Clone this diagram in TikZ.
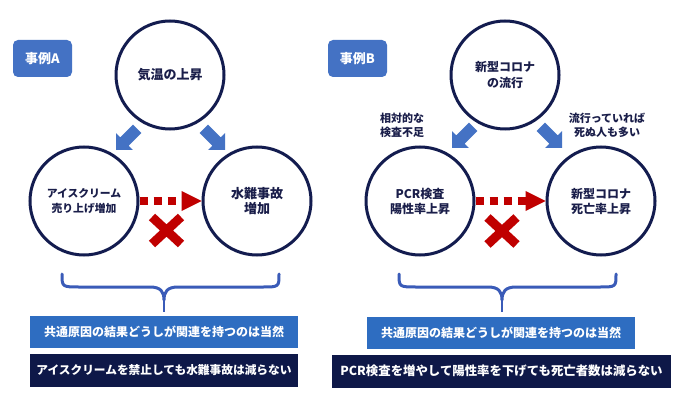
\documentclass[tikz,border=0pt]{standalone}
\usepackage{fontspec}
\setmainfont{Noto Sans CJK JP}
\usetikzlibrary{arrows.meta,shapes.misc}
\definecolor{boxblue}{HTML}{4472C4}
\definecolor{arrowblue}{HTML}{4472C4}
\definecolor{bandblue}{HTML}{2E6DC1}
\definecolor{navy}{HTML}{0E1848}
\definecolor{ringnavy}{HTML}{131C4F}
\definecolor{textnavy}{HTML}{1A1E4A}
\definecolor{bracecol}{HTML}{3A5BB8}
\definecolor{redmark}{HTML}{C00000}
\tikzset{
  ring/.style={circle, draw=ringnavy, line width=3pt, minimum size=108pt, inner sep=0pt,
    align=center, text=textnavy, font=\bfseries\fontsize{12}{15}\selectfont},
  casebox/.style={rectangle, rounded corners=5pt, fill=boxblue, text=white,
    minimum width=59pt, minimum height=37pt, inner sep=0pt, font=\bfseries\fontsize{13}{15}\selectfont},
  sidelabel/.style={align=center, text=textnavy, inner sep=0pt, font=\bfseries\fontsize{11}{14}\selectfont},
  band/.style={rectangle, fill=bandblue, text=white, minimum height=32pt, inner sep=0pt,
    font=\bfseries\fontsize{12}{14}\selectfont},
  darkband/.style={rectangle, fill=navy, text=white, minimum height=33pt, inner sep=0pt,
    font=\bfseries\fontsize{12}{14}\selectfont},
  dotconn/.style={draw=redmark, line width=7pt, dash pattern=on 8pt off 6pt,
    -{Triangle[length=20pt,width=20pt,line width=0pt]}},
  redx/.style={cross out, draw=redmark, line width=9pt, minimum width=20pt, minimum height=18pt, inner sep=0pt},
  bracestyle/.style={draw=bracecol, line width=3pt, line join=round, line cap=round},
}
\newcommand\blockarr[2]{\fill[arrowblue,shift={#1},rotate=#2] (0,0)--(-12,12)--(-12,6)--(-30,6)--(-30,-6)--(-12,-6)--(-12,-12)--cycle;}
\begin{document}
\begin{tikzpicture}[x=1pt,y=-1pt]
\useasboundingbox (0,0) rectangle (700,403);
\fill[white] (0,0) rectangle (700,403);
% ---- Case A ----
\node[casebox] (caseA) at (42.5,58.5) {事例A};
\node[ring, font=\bfseries\fontsize{13}{15}\selectfont] (At) at (170,75) {気温の上昇};
\node[ring, font=\bfseries\fontsize{10.8}{15}\selectfont] (Al) at (84,201) {アイスクリーム\\売り上げ増加};
\node[ring, font=\bfseries\fontsize{13}{15}\selectfont] (Ar) at (257,201) {水難事故\\増加};
\blockarr{(116,150)}{225}
\blockarr{(225,150)}{-45}
\draw[dotconn] (Al) -- (Ar);
\node[redx] (xA) at (166.5,230.5) {};
\draw[bracestyle] (62,274) .. controls (62,287) .. (80,287) -- (150,287)
  .. controls (161,287) and (164,292) .. (164,300)
  .. controls (164,292) and (167,287) .. (178,287) -- (262,287)
  .. controls (279,287) .. (279,274);
\draw[draw=bracecol, line width=2pt] (164,298) -- (164,312);
\node[band, minimum width=268pt] (bandA) at (164,332) {共通原因の結果どうしが関連を持つのは当然};
\node[darkband, minimum width=268pt, font=\bfseries\fontsize{11.7}{14}\selectfont] (darkA) at (164,370.5) {アイスクリームを禁止しても水難事故は減らない};
% ---- Case B ----
\node[casebox] (caseB) at (357.5,58.5) {事例B};
\node[ring] (Bt) at (505,75) {新型コロナ\\[1pt]の流行};
\node[ring] (Bl) at (420,201) {PCR検査\\陽性率上昇};
\node[ring] (Br) at (601,201) {新型コロナ\\死亡率上昇};
\node[sidelabel] (labL) at (402,125) {相対的な\\検査不足};
\node[sidelabel] (labR) at (607,125) {流行っていれば\\死ぬ人も多い};
\blockarr{(452,148)}{225}
\blockarr{(562,148)}{-45}
\draw[dotconn] (Bl) -- (Br);
\node[redx] (xB) at (502,231) {};
\draw[bracestyle] (399,274) .. controls (399,287) .. (417,287) -- (488,287)
  .. controls (499,287) and (502,292) .. (502,300)
  .. controls (502,292) and (505,287) .. (516,287) -- (599,287)
  .. controls (616,287) .. (616,274);
\draw[draw=bracecol, line width=2pt] (502,298) -- (502,312);
\node[band, minimum width=268pt] (bandB) at (501,332.5) {共通原因の結果どうしが関連を持つのは当然};
\node[darkband, minimum width=339pt, font=\bfseries\fontsize{12.4}{14}\selectfont] (darkB) at (501.5,371) {PCR検査を増やして陽性率を下げても死亡者数は減らない};
\end{tikzpicture}
\end{document}
